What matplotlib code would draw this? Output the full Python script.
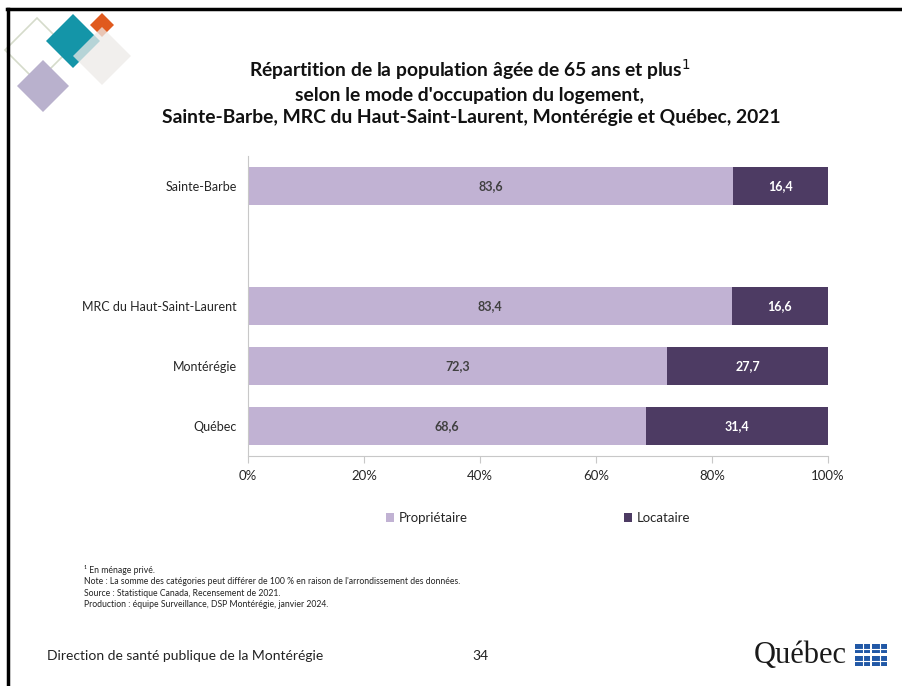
import matplotlib
matplotlib.use("Agg")
import matplotlib.pyplot as plt
from matplotlib.patches import Polygon, Rectangle
from matplotlib.lines import Line2D
import numpy as np

categories = ["Sainte-Barbe", "MRC du Haut-Saint-Laurent", "Montérégie", "Québec"]
proprietaire = [83.6, 83.4, 72.3, 68.6]
locataire = [16.4, 16.6, 27.7, 31.4]
series_names = ["Propriétaire", "Locataire"]
xtick_vals = [0, 20, 40, 60, 80, 100]

FONT = ["Lato", "DejaVu Sans"]
plt.rcParams["font.family"] = FONT

W, H = 902, 686
fig = plt.figure(figsize=(W / 100, H / 100), dpi=100)
fig.patch.set_facecolor("white")

def fx(x):
    return x / W

def fy(y):
    return 1 - y / H

# slide frame (top and left)
fig.add_artist(Line2D([fx(7), 1], [fy(9), fy(9)], color="black", lw=2.5, transform=fig.transFigure))
fig.add_artist(Line2D([fx(8), fx(8)], [fy(9), 0], color="black", lw=2.5, transform=fig.transFigure))

# logo diamonds
def diamond(cx, cy, r, fc="none", ec="none", alpha=1.0, lw=1.0, z=1):
    pts = [(fx(cx), fy(cy - r)), (fx(cx + r), fy(cy)), (fx(cx), fy(cy + r)), (fx(cx - r), fy(cy))]
    p = Polygon(pts, closed=True, facecolor=fc, edgecolor=ec, alpha=alpha, lw=lw,
                transform=fig.transFigure, zorder=z)
    fig.add_artist(p)

diamond(37, 50, 32, fc="none", ec="#D5DBCB", lw=1.2, z=1)
diamond(43, 86, 26, fc="#B9B1CD", z=2)
diamond(73, 41, 27, fc="#1495A8", z=2)
diamond(102, 25, 12, fc="#E05A1E", z=3)
diamond(102, 56, 29, fc="#EDEAE8", alpha=0.75, z=4)

# axes
left, right = 248, 828
top, bottom = 156, 456
ax = fig.add_axes([fx(left), fy(bottom), fx(right) - fx(left), (bottom - top) / H])

light = "#C1B2D3"
dark = "#4D3B63"

ypos = np.array([0] + [i + 2 for i in range(len(categories) - 1)], dtype=float)
bh = 0.62
ax.barh(ypos, proprietaire, height=bh, color=light, label=series_names[0])
ax.barh(ypos, locataire, left=proprietaire, height=bh, color=dark, label=series_names[1])

for y, p, l in zip(ypos, proprietaire, locataire):
    ax.text(p / 2, y, f"{p:.1f}".replace(".", ","), ha="center", va="center",
            fontsize=9, fontweight="bold", color="#404040")
    ax.text(p + l / 2, y, f"{l:.1f}".replace(".", ","), ha="center", va="center",
            fontsize=9, fontweight="bold", color="white")

ax.set_xlim(0, 100)
ax.set_ylim(ypos[-1] + 0.5, -0.5)
ax.set_yticks(ypos)
ax.set_yticklabels(categories, fontsize=9, color="#262626")
ax.set_xticks(xtick_vals)
ax.set_xticklabels([f"{v}%" for v in xtick_vals], fontsize=9.5, color="#262626")
ax.tick_params(axis="y", length=0, pad=8)
ax.tick_params(axis="x", length=5, color="#C8C8C8", pad=5, direction="out")
for s in ["top", "right"]:
    ax.spines[s].set_visible(False)
ax.spines["left"].set_color("#C8C8C8")
ax.spines["bottom"].set_color("#C8C8C8")

leg = ax.legend(loc="center", bbox_to_anchor=(0.5, (bottom - 518) / (bottom - top)),
                ncol=2, frameon=False, fontsize=9.5, handlelength=0.65, handleheight=0.65,
                handletextpad=0.35, columnspacing=11.8)
for t in leg.get_texts():
    t.set_color("#262626")

# title
fig.text(fx(470), fy(70), "Répartition de la population âgée de 65 ans et plus$^{1}$",
         ha="center", va="center", fontsize=13.9, fontweight="bold", color="#111111")
fig.text(fx(470), fy(95), "selon le mode d'occupation du logement,",
         ha="center", va="center", fontsize=13.9, fontweight="bold", color="#111111")
fig.text(fx(471), fy(118), "Sainte-Barbe, MRC du Haut-Saint-Laurent, Montérégie et Québec, 2021",
         ha="center", va="center", fontsize=13.9, fontweight="bold", color="#111111")

# footnotes
notes = ["¹ En ménage privé.",
         "Note : La somme des catégories peut différer de 100 % en raison de l'arrondissement des données.",
         "Source : Statistique Canada, Recensement de 2021.",
         "Production : équipe Surveillance, DSP Montérégie, janvier 2024."]
for i, n in enumerate(notes):
    fig.text(fx(84), fy(570 + i * 11.5), n, ha="left", va="center", fontsize=6.2, color="#222222")

# footer
fig.text(fx(47), fy(656), "Direction de santé publique de la Montérégie", ha="left", va="center",
         fontsize=10, color="#222222")
fig.text(fx(480), fy(656), "34", ha="center", va="center", fontsize=10, color="#222222")

# Quebec logo
fig.text(fx(754), fy(655), "Québec", ha="left", va="center", fontsize=22,
         family=["Liberation Serif", "DejaVu Serif"], color="#1a1a1a")
blue = "#2158A6"
for cx, cy in [(862.5, 648.5), (879.5, 648.5), (862.5, 661), (879.5, 661)]:
    w, h = 15, 9.5
    fig.add_artist(Rectangle((fx(cx - w / 2), fy(cy + h / 2)), w / W, h / H,
                             facecolor=blue, edgecolor="none", transform=fig.transFigure))
    fig.add_artist(Line2D([fx(cx - w / 2), fx(cx + w / 2)], [fy(cy), fy(cy)], color="white", lw=0.8,
                          transform=fig.transFigure))
    fig.add_artist(Line2D([fx(cx), fx(cx)], [fy(cy - h / 2), fy(cy + h / 2)], color="white", lw=0.8,
                          transform=fig.transFigure))

fig.savefig("out.png", dpi=100)
